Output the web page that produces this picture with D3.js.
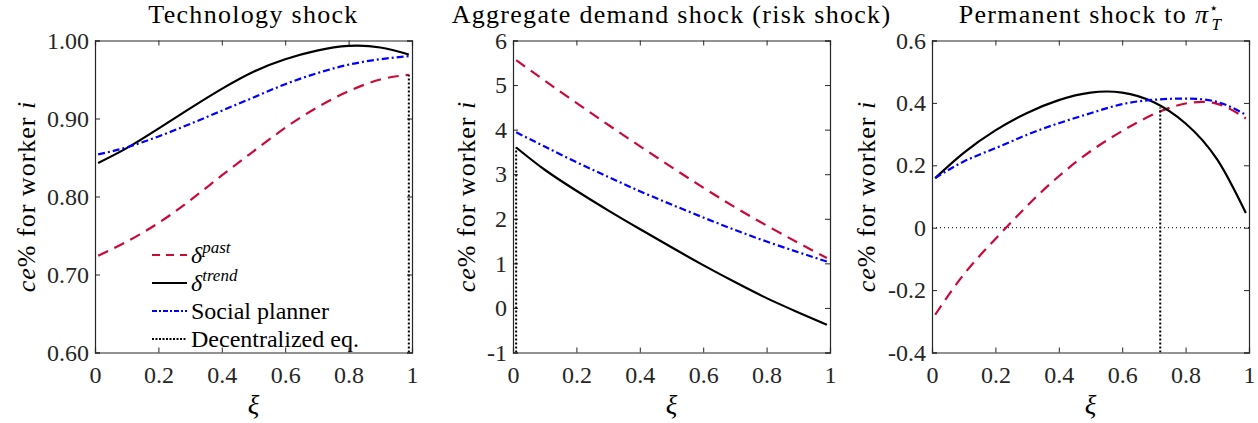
<!DOCTYPE html>
<meta charset="utf-8">
<title>ce% for worker i</title>
<script src="https://cdn.jsdelivr.net/npm/d3@7"></script>
<style>
  body { margin: 0; background: #fff; }
  svg text { font-family: "Liberation Serif", "Times New Roman", Times, "DejaVu Serif", "Noto Serif", serif; fill: #000; }
  .axis path, .axis line { stroke: #262626; }
  .axis text { font-size: 24px; fill: #262626; }
</style>
<body>
<div id="chart"></div>
<script>
// xi grid where the curves were read
const xi = [0.01, 0.1, 0.2, 0.3, 0.4, 0.5, 0.6, 0.7, 0.8, 0.9, 0.99];

// Technology shock
const techPast    = [0.724, 0.742, 0.766, 0.795, 0.827, 0.858, 0.888, 0.914, 0.935, 0.950, 0.956];
const techTrend   = [0.843, 0.862, 0.887, 0.913, 0.938, 0.960, 0.976, 0.987, 0.993, 0.991, 0.982];
const techPlanner = [0.854, 0.863, 0.877, 0.893, 0.910, 0.927, 0.944, 0.958, 0.969, 0.976, 0.980];
const techEq = {x: 0.99, top: 0.956};
const techTicks = [0.6, 0.7, 0.8, 0.9, 1.0];

// Aggregate demand shock
const demPast    = [5.56, 5.10, 4.60, 4.11, 3.63, 3.16, 2.70, 2.26, 1.85, 1.46, 1.12];
const demTrend   = [3.60, 3.10, 2.63, 2.19, 1.77, 1.36, 0.96, 0.58, 0.22, -0.10, -0.38];
const demPlanner = [3.94, 3.62, 3.27, 2.94, 2.62, 2.32, 2.03, 1.75, 1.49, 1.25, 1.04];
const demEq = {x: 0.01, top: 3.60};
const demTicks = [-1, 0, 1, 2, 3, 4, 5, 6];

// Permanent shock to pi*_T
const permPast    = [-0.279, -0.150, -0.036, 0.070, 0.165, 0.245, 0.310, 0.364, 0.398, 0.397, 0.350];
const permTrend   = [0.159, 0.240, 0.312, 0.368, 0.409, 0.433, 0.433, 0.402, 0.334, 0.218, 0.047];
const permPlanner = [0.159, 0.212, 0.255, 0.298, 0.335, 0.367, 0.396, 0.410, 0.414, 0.403, 0.362];
const permEq = {x: 0.72, top: 0.385};
const permTicks = [-0.4, -0.2, 0, 0.2, 0.4, 0.6];

const xTicks = [0, 0.2, 0.4, 0.6, 0.8, 1];

const W = 1258, H = 423;
const plotTop = 40.5, plotH = 312, plotW = 317;
const serif = '"Liberation Serif", "Times New Roman", Times, "DejaVu Serif", serif';

const panels = [
  {left: 95, title: "Technology shock", past: techPast, trend: techTrend, planner: techPlanner,
   eq: techEq, ticks: techTicks, fmt: d3.format(".2f"), legend: true, ylabX: 26},
  {left: 513, title: "Aggregate demand shock (risk shock)", past: demPast, trend: demTrend, planner: demPlanner,
   eq: demEq, ticks: demTicks, fmt: d => String(d), ylabX: 466},
  {left: 932, title: "Permanent shock to ", past: permPast, trend: permTrend, planner: permPlanner,
   eq: permEq, ticks: permTicks, fmt: d => String(d), zeroLine: true, pi: true, ylabX: 866}
];

const red = "#cc0a3a", blue = "#0000ff";

const svg = d3.select("#chart").append("svg")
  .attr("width", W).attr("height", H)
  .attr("font-family", serif);

panels.forEach((p, i) => {
  const g = svg.append("g").attr("transform", `translate(${p.left},${plotTop})`);
  const x = d3.scaleLinear().domain([0, 1]).range([0, plotW]);
  const y = d3.scaleLinear().domain(d3.extent(p.ticks)).range([plotH, 0]);

  g.append("clipPath").attr("id", "clip" + i)
    .append("rect").attr("width", plotW).attr("height", plotH);

  // axes, ticks pointing inward on all four sides
  g.append("g").attr("class", "axis").attr("transform", `translate(0,${plotH})`)
    .call(d3.axisBottom(x).tickValues(xTicks).tickSize(-5).tickPadding(13).tickFormat(d => String(d)));
  g.append("g").attr("class", "axis")
    .call(d3.axisTop(x).tickValues(xTicks).tickSize(-5).tickFormat(""));
  g.append("g").attr("class", "axis")
    .call(d3.axisLeft(y).tickValues(p.ticks).tickSize(-5).tickPadding(6).tickFormat(p.fmt));
  g.append("g").attr("class", "axis").attr("transform", `translate(${plotW},0)`)
    .call(d3.axisRight(y).tickValues(p.ticks).tickSize(-5).tickFormat(""));
  g.selectAll(".axis").attr("font-family", serif);
  g.selectAll(".axis .domain").attr("stroke-width", 1.2);

  const plot = g.append("g").attr("clip-path", `url(#clip${i})`);

  if (p.zeroLine) {
    plot.append("line").attr("x1", 0).attr("x2", plotW)
      .attr("y1", y(0)).attr("y2", y(0))
      .attr("stroke", "#000").attr("stroke-width", 1).attr("stroke-dasharray", "1,3");
  }

  const line = d3.line().x((d, j) => x(xi[j])).y(d => y(d)).curve(d3.curveNatural);

  plot.append("path").datum(p.past).attr("d", line)
    .attr("fill", "none").attr("stroke", red).attr("stroke-width", 2.2).attr("stroke-dasharray", "11,7");
  plot.append("path").datum(p.trend).attr("d", line)
    .attr("fill", "none").attr("stroke", "#000").attr("stroke-width", 2.2);
  plot.append("path").datum(p.planner).attr("d", line)
    .attr("fill", "none").attr("stroke", blue).attr("stroke-width", 2.2).attr("stroke-dasharray", "7,3,2,3");

  // decentralized equilibrium marker
  plot.append("line").attr("x1", x(p.eq.x)).attr("x2", x(p.eq.x))
    .attr("y1", plotH).attr("y2", y(p.eq.top))
    .attr("stroke", "#000").attr("stroke-width", 2).attr("stroke-dasharray", "2,2");

  // title
  const t = svg.append("text").attr("x", p.left + plotW / 2).attr("y", 23)
    .attr("text-anchor", "middle").attr("font-size", 26).attr("letter-spacing", 1.3).text(p.title);
  if (p.pi) {
    t.append("tspan").attr("font-style", "italic").text("π");
    t.append("tspan").attr("font-size", 15).attr("dy", -10).text("⋆");
    t.append("tspan").attr("font-size", 17).attr("font-style", "italic").attr("dx", -8).attr("dy", 17).text("T");
  }

  // x label
  svg.append("text").attr("x", p.left + plotW / 2).attr("y", 414)
    .attr("text-anchor", "middle").attr("font-size", 27).attr("font-style", "italic").text("ξ");

  // y label
  const yl = svg.append("text")
    .attr("transform", `translate(${p.ylabX},${plotTop + plotH / 2}) rotate(-90)`)
    .attr("text-anchor", "middle").attr("dy", "0.35em").attr("font-size", 26).attr("letter-spacing", 1);
  yl.append("tspan").attr("font-style", "italic").text("ce");
  yl.append("tspan").text("% for worker ");
  yl.append("tspan").attr("font-style", "italic").text("i");

  if (p.legend) {
    const items = [
      {sup: "past", stroke: red, dash: "8,6"},
      {sup: "trend", stroke: "#000", dash: null},
      {label: "Social planner", stroke: blue, dash: "5,2,2,2"},
      {label: "Decentralized eq.", stroke: "#000", dash: "2,1.5"}
    ];
    const lg = svg.append("g").attr("transform", `translate(152,255)`);
    items.forEach((it, k) => {
      const row = lg.append("g").attr("transform", `translate(0,${k * 28})`);
      row.append("line").attr("x1", 0).attr("x2", 35).attr("y1", 0).attr("y2", 0)
        .attr("stroke", it.stroke).attr("stroke-width", 2.2)
        .attr("stroke-dasharray", it.dash);
      const tx = row.append("text").attr("x", 39).attr("y", 8).attr("font-size", 24);
      if (it.sup) {
        tx.append("tspan").attr("font-style", "italic").text("δ");
        tx.append("tspan").attr("font-style", "italic").attr("font-size", 17).attr("dy", -10).text(it.sup);
      } else {
        tx.text(it.label);
      }
    });
  }
});
</script>
</body>
